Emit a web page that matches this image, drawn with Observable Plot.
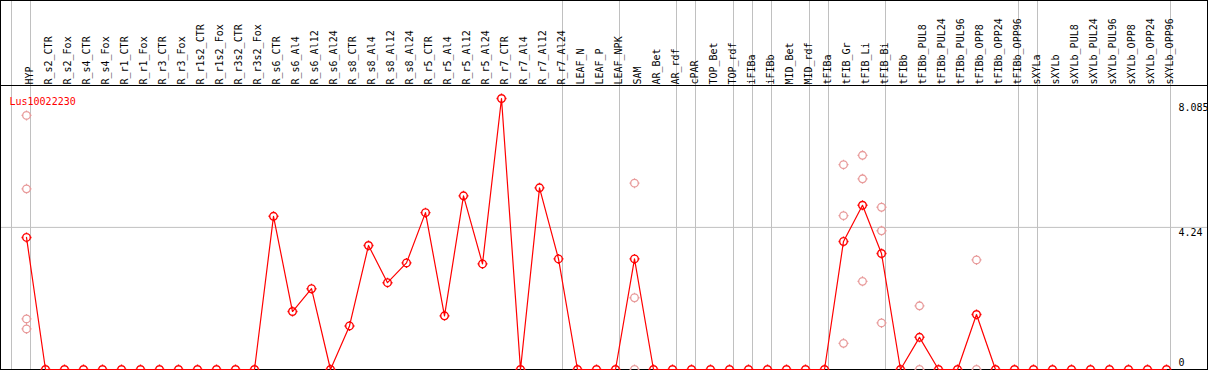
<!DOCTYPE html>
<html>
<head>
<meta charset="utf-8">
<script src="https://cdn.jsdelivr.net/npm/d3@7"></script>
<script src="https://cdn.jsdelivr.net/npm/@observablehq/plot@0.6"></script>
<style>
  html, body { margin: 0; padding: 0; background: #fff; }
  #chart svg { display: block; }
</style>
</head>
<body>
<div id="chart"></div>
<script>
// ---- data ----
const title = "Lus10022230";

const categories = [
  "HYP",
  "R_s2_CTR", "R_s2_Fox", "R_s4_CTR", "R_s4_Fox", "R_r1_CTR", "R_r1_Fox",
  "R_r3_CTR", "R_r3_Fox", "R_r1s2_CTR", "R_r1s2_Fox", "R_r3s2_CTR", "R_r3s2_Fox",
  "R_s6_CTR", "R_s6_Al4", "R_s6_Al12", "R_s6_Al24",
  "R_s8_CTR", "R_s8_Al4", "R_s8_Al12", "R_s8_Al24",
  "R_r5_CTR", "R_r5_Al4", "R_r5_Al12", "R_r5_Al24",
  "R_r7_CTR", "R_r7_Al4", "R_r7_Al12", "R_r7_Al24",
  "LEAF_N", "LEAF_P", "LEAF_NPK",
  "SAM", "AR_Bet", "AR_rdf",
  "cPAR",
  "TOP_Bet", "TOP_rdf",
  "iFIBa", "iFIBb",
  "MID_Bet", "MID_rdf",
  "tFIBa",
  "tFIB_Gr", "tFIB_Li", "tFIB_Bi",
  "tFIBb", "tFIBb_PUL8", "tFIBb_PUL24", "tFIBb_PUL96", "tFIBb_OPP8", "tFIBb_OPP24", "tFIBb_OPP96",
  "sXYLa",
  "sXYLb", "sXYLb_PUL8", "sXYLb_PUL24", "sXYLb_PUL96", "sXYLb_OPP8", "sXYLb_OPP24", "sXYLb_OPP96"
];

const meanValues = [
  3.94,
  0, 0, 0, 0, 0, 0,
  0, 0, 0, 0, 0, 0,
  4.57, 1.73, 2.41, 0,
  1.30, 3.70, 2.59, 3.18,
  4.68, 1.60, 5.18, 3.15,
  8.085, 0, 5.42, 3.30,
  0, 0, 0,
  3.30, 0, 0,
  0,
  0, 0,
  0, 0,
  0, 0,
  0,
  3.82, 4.90, 3.46,
  0, 0.96, 0, 0, 1.64, 0, 0,
  0,
  0, 0, 0, 0, 0, 0, 0
];

const replicateCategories = [
  "HYP", "HYP", "HYP", "HYP",
  "SAM", "SAM", "SAM",
  "tFIB_Gr", "tFIB_Gr", "tFIB_Gr",
  "tFIB_Li", "tFIB_Li", "tFIB_Li",
  "tFIB_Bi", "tFIB_Bi", "tFIB_Bi",
  "tFIBb_PUL8", "tFIBb_PUL8",
  "tFIBb_OPP8", "tFIBb_OPP8"
];
const replicateValues = [
  7.58, 5.39, 1.51, 1.21,
  5.56, 2.14, 0,
  6.11, 4.59, 0.78,
  6.39, 5.69, 2.63,
  4.84, 4.14, 1.39,
  1.90, 0,
  3.27, 0
];

// last category of each group (grey separators)
const groupEnds = [
  "HYP", "R_r7_Al24", "LEAF_NPK", "AR_rdf", "cPAR", "TOP_rdf", "iFIBa", "iFIBb",
  "MID_rdf", "tFIBa", "tFIB_Bi", "tFIBb_OPP96", "sXYLa", "sXYLb_OPP96"
];
const groupStart = ["HYP"];

const yMax = 8.085;
const gridValues = [4.24];
const yTicks = [8.085, 4.24, 0];
const yTickLabels = ["8.085", "4.24", "0"];

// ---- tables ----
const means = categories.map((c, i) => ({cat: c, value: meanValues[i]}));
const reps = replicateCategories.map((c, i) => ({cat: c, value: replicateValues[i]}));
const ticks = yTicks.map((v, i) => ({value: v, label: yTickLabels[i]}));

// gunsight-like marker: circle with four short stubs
const sight = {
  draw(ctx, size) {
    const r = Math.sqrt(size / Math.PI);
    const t = 1.2;
    ctx.moveTo(r, 0);
    ctx.arc(0, 0, r, 0, 2 * Math.PI);
    ctx.moveTo(0, -r); ctx.lineTo(0, -r - t);
    ctx.moveTo(0, r); ctx.lineTo(0, r + t);
    ctx.moveTo(-r, 0); ctx.lineTo(-r - t, 0);
    ctx.moveTo(r, 0); ctx.lineTo(r + t, 0);
  }
};

const grey = "#c0c0c0";
const pink = "#e89a9a";

const chart = Plot.plot({
  width: 1209,
  height: 370,
  marginTop: 0,
  marginBottom: 1,
  marginLeft: 0,
  marginRight: 2,
  style: {fontFamily: "'DejaVu Sans Mono', monospace", fontSize: "10px", background: "#fff", color: "black"},
  x: {type: "point", domain: categories, range: [26, 1166], padding: 0, axis: null},
  y: {domain: [0, yMax], range: [369, 98], axis: null},
  marks: [
    Plot.ruleY(gridValues, {stroke: grey}),
    Plot.ruleX(groupEnds, {x: d => d, dx: 4, stroke: grey}),
    Plot.ruleX(groupStart, {x: d => d, dx: -15, stroke: grey}),
    Plot.ruleY([yMax], {dy: -13, stroke: "black"}),
    Plot.frame({stroke: "black"}),
    Plot.line(means, {x: "cat", y: "value", stroke: "red", strokeWidth: 1.2}),
    Plot.dot(reps, {x: "cat", y: "value", symbol: sight, r: 3.8, fill: "none", stroke: pink, strokeWidth: 1.3}),
    Plot.dot(means, {x: "cat", y: "value", symbol: sight, r: 3.8, fill: "none", stroke: "red", strokeWidth: 1.4}),
    Plot.text(categories, {x: d => d, frameAnchor: "top", dy: 84, dx: -1, rotate: -90, textAnchor: "start", fill: "black"}),
    Plot.text([title], {frameAnchor: "top-left", dx: 9, dy: 97, textAnchor: "start", fill: "red"}),
    Plot.text(ticks.filter((d, i) => i === 0), {y: "value", text: "label", frameAnchor: "right", dx: -29, dy: 9, textAnchor: "start", fill: "black"}),
    Plot.text(ticks.filter((d, i) => i === 1), {y: "value", text: "label", frameAnchor: "right", dx: -29, dy: 5, textAnchor: "start", fill: "black"}),
    Plot.text(ticks.filter((d, i) => i === 2), {y: "value", text: "label", frameAnchor: "right", dx: -29, dy: -6.5, textAnchor: "start", fill: "black"})
  ]
});
document.getElementById("chart").appendChild(chart);
</script>
</body>
</html>
